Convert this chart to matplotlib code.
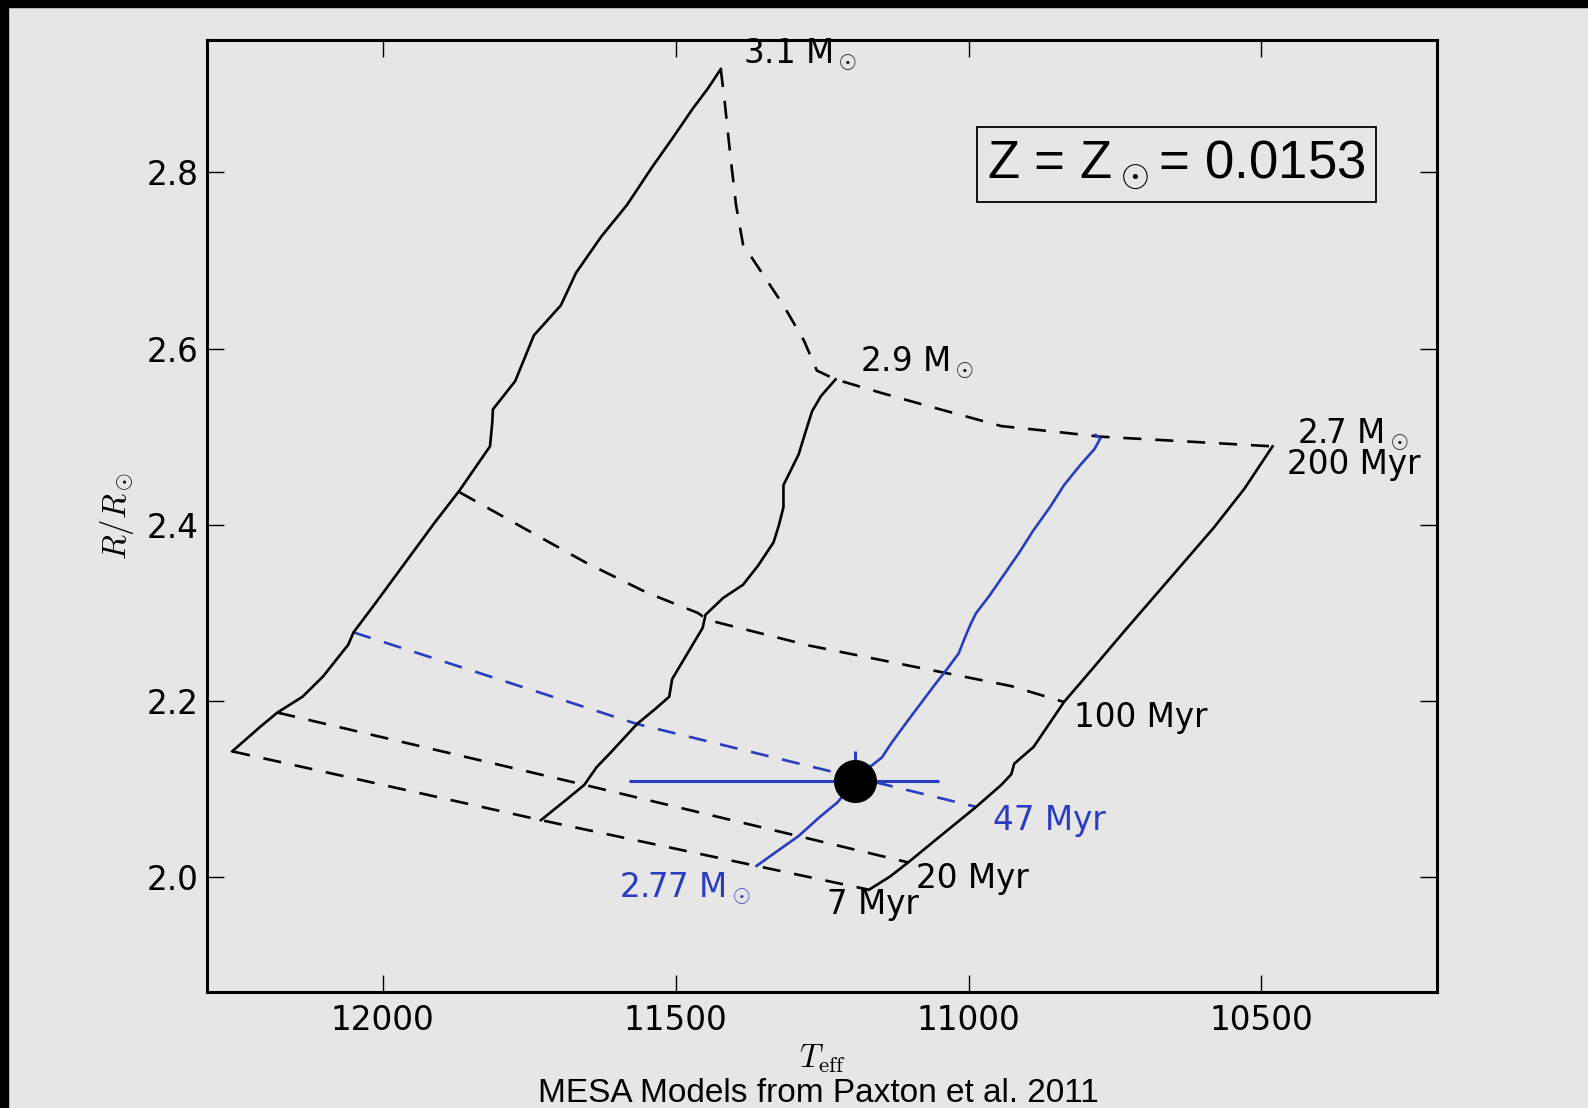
import numpy as np
import matplotlib
matplotlib.use('Agg')
import matplotlib.pyplot as plt
from matplotlib.patches import Rectangle

plt.rcParams['mathtext.fontset'] = 'cm'
plt.rcParams['lines.scale_dashes'] = False

# evolutionary tracks (Teff, R/Rsun)
track_31_teff = [12257, 12209, 12180, 12137, 12102, 12059, 12050, 12016, 11964, 11912,
                 11869, 11817, 11813, 11812, 11774, 11742, 11696, 11670, 11627, 11583,
                 11540, 11506, 11471, 11445, 11423]
track_31_r = [2.143, 2.171, 2.187, 2.205, 2.228, 2.264, 2.278, 2.308, 2.355, 2.402,
              2.439, 2.489, 2.517, 2.531, 2.563, 2.615, 2.649, 2.686, 2.727, 2.763,
              2.806, 2.838, 2.872, 2.895, 2.917]

track_29_teff = [11730, 11687, 11656, 11635, 11609, 11566, 11535, 11511, 11506, 11480,
                 11454, 11449, 11419, 11385, 11359, 11333, 11324, 11316, 11316, 11290,
                 11278, 11267, 11252, 11227]
track_29_r = [2.065, 2.088, 2.105, 2.125, 2.143, 2.174, 2.191, 2.205, 2.225, 2.254,
              2.283, 2.298, 2.317, 2.332, 2.354, 2.380, 2.399, 2.420, 2.445, 2.480,
              2.506, 2.529, 2.546, 2.565]

track_27_teff = [11170, 11134, 11103, 11048, 10987, 10944, 10927, 10922, 10889, 10837,
                 10788, 10737, 10685, 10633, 10581, 10529, 10481]
track_27_r = [1.986, 2.001, 2.017, 2.047, 2.080, 2.105, 2.117, 2.129, 2.148, 2.199,
              2.237, 2.277, 2.317, 2.357, 2.397, 2.441, 2.489]

track_277_teff = [11362, 11324, 11290, 11255, 11224, 11195, 11169, 11148, 11131, 11108,
                  11082, 11056, 11036, 11017, 11005, 10996, 10987, 10965, 10941, 10913,
                  10889, 10861, 10837, 10809, 10785, 10775, 10783]
track_277_r = [2.013, 2.031, 2.047, 2.068, 2.085, 2.108, 2.125, 2.136, 2.153, 2.174,
               2.197, 2.220, 2.237, 2.254, 2.274, 2.288, 2.300, 2.319, 2.342, 2.369,
               2.394, 2.420, 2.445, 2.468, 2.486, 2.498, 2.502]

# isochrons
iso_7_teff = [12257, 11730, 11362, 11170]
iso_7_r = [2.143, 2.065, 2.013, 1.986]
iso_20_teff = [12180, 11656, 11103]
iso_20_r = [2.187, 2.105, 2.017]
iso_47_teff = [12050, 11566, 10987]
iso_47_r = [2.278, 2.174, 2.080]
iso_100_teff = [11869, 11756, 11653, 11549, 11462, 11445, 11272, 11100, 10927, 10837]
iso_100_r = [2.437, 2.395, 2.357, 2.323, 2.300, 2.292, 2.263, 2.240, 2.217, 2.199]
iso_200_teff = [11423, 11416, 11407, 11397, 11385, 11350, 11316, 11281, 11259, 11227,
                11151, 11065, 10944, 10858, 10775, 10667, 10481]
iso_200_r = [2.917, 2.878, 2.821, 2.763, 2.718, 2.683, 2.649, 2.609, 2.575, 2.565,
             2.550, 2.534, 2.512, 2.506, 2.500, 2.496, 2.489]

# observed star (errors: lower Teff side, higher Teff side)
star_teff = 11193
star_r = 2.109
star_teff_err = [[142], [387]]
star_r_err = [[0.02], [0.034]]

blue = '#2a3cc0'
dash = (0, (13, 10))

fig = plt.figure(figsize=(15.88, 11.08), dpi=100, facecolor='#e6e6e6')
ax = fig.add_axes([0.1304, 0.1047, 0.7746, 0.8592], facecolor='#e6e6e6')

for t, r in [(iso_7_teff, iso_7_r), (iso_20_teff, iso_20_r),
             (iso_100_teff, iso_100_r), (iso_200_teff, iso_200_r)]:
    ax.plot(t, r, color='k', lw=1.9, linestyle=dash)
ax.plot(iso_47_teff, iso_47_r, color=blue, lw=1.9, linestyle=dash)

for t, r in [(track_31_teff, track_31_r), (track_29_teff, track_29_r),
             (track_27_teff, track_27_r)]:
    ax.plot(t, r, color='k', lw=1.9)
ax.plot(track_277_teff, track_277_r, color=blue, lw=1.9)

ax.errorbar([star_teff], [star_r], xerr=star_teff_err, yerr=star_r_err,
            fmt='o', color='k', ecolor=blue, elinewidth=2.2, capsize=0,
            markersize=30, zorder=5)

fs = 23.5
ax.text(11385, 2.933, r'3.1 M$_\odot$', fontsize=fs, va='center')
ax.text(11186, 2.584, r'2.9 M$_\odot$', fontsize=fs, va='center')
ax.text(10439, 2.502, r'2.7 M$_\odot$', fontsize=fs, va='center')
ax.text(10457, 2.468, '200 Myr', fontsize=fs, va='center')
ax.text(10820, 2.181, '100 Myr', fontsize=fs, va='center')
ax.text(10958, 2.065, '47 Myr', fontsize=fs, va='center', color=blue)
ax.text(11089, 1.999, '20 Myr', fontsize=fs, va='center')
ax.text(11241, 1.969, '7 Myr', fontsize=fs, va='center')
ax.text(11597, 1.987, r'2.77 M$_\odot$', fontsize=fs, va='center', color=blue)

ax.text(0.788, 0.869, r'Z = Z$_\odot$= 0.0153', transform=ax.transAxes,
        fontsize=38, family='Liberation Sans', ha='center', va='center',
        bbox=dict(boxstyle='square,pad=0.2', facecolor='none',
                  edgecolor='k', linewidth=1.3))

ax.set_xlim(12300, 10200)
ax.set_ylim(1.87, 2.95)
ax.set_xticks([12000, 11500, 11000, 10500])
ax.set_yticks([2.0, 2.2, 2.4, 2.6, 2.8])
ax.tick_params(direction='in', length=12, width=1, labelsize=fs,
               top=True, right=True)
ax.tick_params(axis='x', pad=9)
ax.tick_params(axis='y', pad=6)
for s in ax.spines.values():
    s.set_linewidth(2.2)

ax.set_xlabel(r'$T_{\rm eff}$', fontsize=fs)
ax.set_ylabel(r'$R/R_\odot$', fontsize=fs)
ax.xaxis.set_label_coords(0.5, -0.053)
ax.yaxis.set_label_coords(-0.058, 0.5)

fig.text(818 / 1588, 0.005, 'MESA Models from Paxton et al. 2011',
         family='Liberation Sans', fontsize=24, ha='center', va='baseline')

# black strips on the left and top edges
fig.add_artist(Rectangle((0, 1 - 7 / 1108), 1, 7 / 1108, transform=fig.transFigure,
                         color='k', zorder=10))
fig.add_artist(Rectangle((0, 0), 8 / 1588, 1, transform=fig.transFigure,
                         color='k', zorder=10))

fig.savefig('out.png', dpi=100, facecolor=fig.get_facecolor())
